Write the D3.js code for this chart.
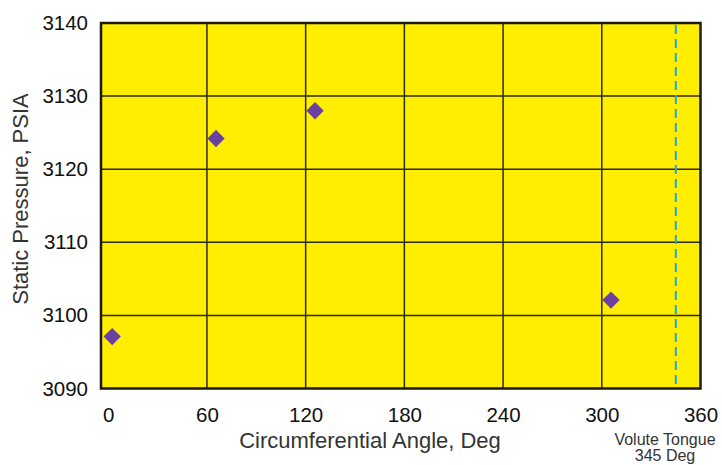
<!DOCTYPE html>
<html>
<head>
<meta charset="utf-8">
<script src="https://d3js.org/d3.v7.min.js"></script>
<style>
  body { margin: 0; background: #fff; }
  text { font-family: "Liberation Sans", Arial, sans-serif; }
</style>
</head>
<body>
<svg id="chart" width="722" height="465"></svg>
<script>
// data
var angles = [2.4, 65.5, 125.7, 305.6];
var pressures = [3097.1, 3124.2, 3128.0, 3102.1];
var xTicks = [0, 60, 120, 180, 240, 300, 360];
var yTicks = [3090, 3100, 3110, 3120, 3130, 3140];
var tongueAngle = 345;
var tongueLabel = ['Volute Tongue', '345 Deg'];

var svg = d3.select('#chart');

var x = d3.scaleLinear().domain([-4.4, 360]).range([101, 700.5]);
var y = d3.scaleLinear().domain([3090, 3140]).range([388.5, 23]);

// plot background
svg.append('rect')
    .attr('x', x(-4.4)).attr('y', y(3140))
    .attr('width', x(360) - x(-4.4)).attr('height', y(3090) - y(3140))
    .attr('fill', '#ffee00');

// grid
var grid = svg.append('g');
grid.selectAll('.vg')
    .data(xTicks.filter(function(d){ return d > 0 && d < 360; }))
    .enter().append('line')
    .attr('x1', function(d){ return x(d); }).attr('x2', function(d){ return x(d); })
    .attr('y1', y(3140)).attr('y2', y(3090))
    .attr('stroke', '#2b2a10').attr('stroke-width', 1.5);
grid.selectAll('.hg')
    .data(yTicks.filter(function(d){ return d > 3090 && d < 3140; }))
    .enter().append('line')
    .attr('y1', function(d){ return y(d); }).attr('y2', function(d){ return y(d); })
    .attr('x1', x(-4.4)).attr('x2', x(360))
    .attr('stroke', '#2b2a10').attr('stroke-width', 1.5);

// volute tongue line
svg.append('line')
    .attr('x1', x(tongueAngle)).attr('x2', x(tongueAngle))
    .attr('y1', y(3140) + 2).attr('y2', y(3090) - 2)
    .attr('stroke', '#18a8ee').attr('stroke-width', 2)
    .attr('stroke-dasharray', '9,5');

// frame
svg.append('rect')
    .attr('x', x(-4.4)).attr('y', y(3140))
    .attr('width', x(360) - x(-4.4)).attr('height', y(3090) - y(3140))
    .attr('fill', 'none').attr('stroke', '#1c1a08').attr('stroke-width', 2.5);

// points
svg.selectAll('.pt')
    .data(angles)
    .enter().append('path')
    .attr('d', d3.symbol().type(d3.symbolSquare).size(150))
    .attr('transform', function(d, i){ return 'translate(' + x(d) + ',' + y(pressures[i]) + ') rotate(45)'; })
    .attr('fill', '#6a40a0');

// axes labels
var xAxis = d3.axisBottom(x).tickValues(xTicks).tickSize(0).tickPadding(0).tickFormat(d3.format('d'));
svg.append('g')
    .attr('transform', 'translate(0,' + 407 + ')')
    .call(xAxis)
    .call(function(g){ g.select('.domain').remove(); })
    .selectAll('text')
    .attr('font-size', 20.5).attr('fill', '#111')
    .attr('font-family', '"Liberation Sans", Arial, sans-serif');

var yAxis = d3.axisLeft(y).tickValues(yTicks).tickSize(0).tickPadding(0).tickFormat(d3.format('d'));
svg.append('g')
    .attr('transform', 'translate(' + 88 + ',0)')
    .call(yAxis)
    .call(function(g){ g.select('.domain').remove(); })
    .selectAll('text')
    .attr('font-size', 20.5).attr('fill', '#111')
    .attr('font-family', '"Liberation Sans", Arial, sans-serif');

svg.append('text')
    .attr('x', 370).attr('y', 448)
    .attr('text-anchor', 'middle')
    .attr('font-size', 22).attr('fill', '#333')
    .text('Circumferential Angle, Deg');

svg.append('text')
    .attr('transform', 'translate(28,199) rotate(-90)')
    .attr('text-anchor', 'middle')
    .attr('font-size', 22).attr('fill', '#333')
    .text('Static Pressure, PSIA');

svg.append('g').selectAll('text')
    .data(tongueLabel)
    .enter().append('text')
    .attr('x', 665).attr('y', function(d, i){ return 445 + i * 16; })
    .attr('text-anchor', 'middle')
    .attr('font-size', 16).attr('fill', '#333')
    .text(function(d){ return d; });
</script>
</body>
</html>
